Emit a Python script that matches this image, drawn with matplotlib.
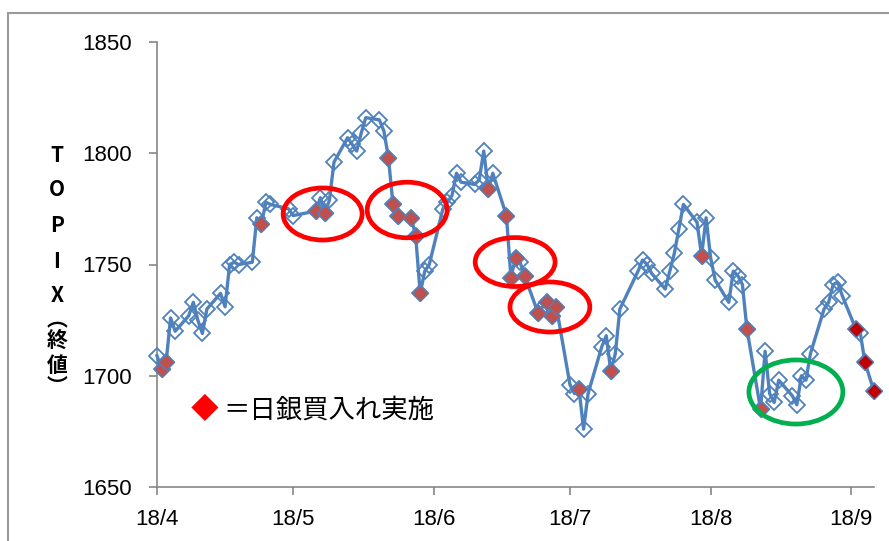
import matplotlib
matplotlib.use('Agg')
import matplotlib.pyplot as plt
import matplotlib.dates as mdates
from matplotlib.patches import Ellipse, Rectangle
import pandas as pd

plt.rcParams['font.family'] = ['Liberation Sans', 'Noto Sans CJK JP', 'DejaVu Sans']

# TOPIX closes
dates = [
    '2018-04-02', '2018-04-03', '2018-04-04', '2018-04-05', '2018-04-06',
    '2018-04-09', '2018-04-10', '2018-04-11', '2018-04-12', '2018-04-13',
    '2018-04-16', '2018-04-17', '2018-04-18', '2018-04-19', '2018-04-20',
    '2018-04-23', '2018-04-24', '2018-04-25', '2018-04-26', '2018-04-27',
    '2018-05-01', '2018-05-02', '2018-05-07', '2018-05-08', '2018-05-09',
    '2018-05-10', '2018-05-11', '2018-05-14', '2018-05-15', '2018-05-16',
    '2018-05-17', '2018-05-18', '2018-05-21', '2018-05-22', '2018-05-23',
    '2018-05-24', '2018-05-25', '2018-05-28', '2018-05-29', '2018-05-30',
    '2018-05-31', '2018-06-01', '2018-06-04', '2018-06-05', '2018-06-06',
    '2018-06-07', '2018-06-08', '2018-06-11', '2018-06-12', '2018-06-13',
    '2018-06-14', '2018-06-15', '2018-06-18', '2018-06-19', '2018-06-20',
    '2018-06-21', '2018-06-22', '2018-06-25', '2018-06-26', '2018-06-27',
    '2018-06-28', '2018-06-29', '2018-07-02', '2018-07-03', '2018-07-04',
    '2018-07-05', '2018-07-06', '2018-07-09', '2018-07-10', '2018-07-11',
    '2018-07-12', '2018-07-13', '2018-07-17', '2018-07-18', '2018-07-19',
    '2018-07-20', '2018-07-23', '2018-07-24', '2018-07-25', '2018-07-26',
    '2018-07-27', '2018-07-30', '2018-07-31', '2018-08-01', '2018-08-02',
    '2018-08-03', '2018-08-06', '2018-08-07', '2018-08-08', '2018-08-09',
    '2018-08-10', '2018-08-13', '2018-08-14', '2018-08-15', '2018-08-16',
    '2018-08-17', '2018-08-20', '2018-08-21', '2018-08-22', '2018-08-23',
    '2018-08-24', '2018-08-27', '2018-08-28', '2018-08-29', '2018-08-30',
    '2018-08-31', '2018-09-03', '2018-09-04', '2018-09-05', '2018-09-07',
]
topix = [
    1709, 1703, 1706, 1726, 1720,
    1727, 1733, 1725, 1719, 1730,
    1737, 1731, 1750, 1751, 1750,
    1751, 1771, 1768, 1778, 1777,
    1775, 1772, 1774, 1780, 1773,
    1779, 1796, 1807, 1804, 1801,
    1809, 1816, 1815, 1810, 1798,
    1777, 1772, 1771, 1763, 1737,
    1747, 1750, 1775, 1778, 1781,
    1791, 1787, 1786, 1788, 1801,
    1784, 1791, 1772, 1744, 1753,
    1751, 1745, 1728, 1731, 1733,
    1727, 1731, 1696, 1692, 1694,
    1676, 1692, 1713, 1718, 1702,
    1710, 1730, 1747, 1752, 1750,
    1746, 1739, 1747, 1755, 1766,
    1777, 1769, 1754, 1771, 1753,
    1743, 1733, 1747, 1745, 1741,
    1721, 1685, 1711, 1692, 1688,
    1698, 1691, 1687, 1700, 1698,
    1710, 1730, 1733, 1741, 1742,
    1736, 1721, 1719, 1706, 1693,
]

# days with BOJ ETF purchases
boj_days = [
    '2018-04-03', '2018-04-04', '2018-04-25', '2018-05-07', '2018-05-09',
    '2018-05-23', '2018-05-24', '2018-05-25', '2018-05-28', '2018-05-29',
    '2018-05-30', '2018-06-14', '2018-06-18', '2018-06-19', '2018-06-20',
    '2018-06-22', '2018-06-25', '2018-06-27', '2018-06-28', '2018-06-29',
    '2018-07-04', '2018-07-11', '2018-07-31', '2018-08-10', '2018-08-13',
]
boj_days_sep = ['2018-09-03', '2018-09-05', '2018-09-07']

month_ticks = ['2018-04-02', '2018-05-02', '2018-06-02', '2018-07-02', '2018-08-02', '2018-09-02']
month_labels = ['18/4', '18/5', '18/6', '18/7', '18/8', '18/9']
y_ticks = [1650, 1700, 1750, 1800, 1850]

# circles: (center date, center value, width days, height value, color)
circles = [
    ('2018-05-08 12:00', 1772.7, 17.4, 23.4, '#FF0000'),
    ('2018-05-27 03:00', 1774.5, 17.6, 25.0, '#FF0000'),
    ('2018-06-19 22:00', 1751.1, 17.6, 22.0, '#FF0000'),
    ('2018-06-27 14:00', 1730.9, 17.6, 22.5, '#FF0000'),
    ('2018-08-20 19:00', 1692.7, 20.7, 28.8, '#00B050'),
]

s = pd.Series(topix, index=pd.to_datetime(dates))
xd = mdates.date2num(s.index)

fig = plt.figure(figsize=(8.89, 5.41), dpi=100)
fig.patches.append(Rectangle((8 / 889, -0.1), 1.2, 1.1 - 13 / 541, transform=fig.transFigure,
                             fill=False, edgecolor='#9A9A9A', linewidth=1.5))
ax = fig.add_axes([157 / 889, 1 - 487 / 541, (874 - 157) / 889, (487 - 42) / 541])

ax.plot(xd, s.values, color='#4F81BD', lw=2.4, marker='D', ms=8.3, mfc='none',
        mec='#4F81BD', mew=1.3, clip_on=False, zorder=3)

r = s.loc[pd.to_datetime(boj_days)]
ax.plot(mdates.date2num(r.index), r.values, ls='none', marker='D', ms=8.6,
        mfc='#C0504D', mec='#4F81BD', mew=0.9, clip_on=False, zorder=4)
r2 = s.loc[pd.to_datetime(boj_days_sep)]
ax.plot(mdates.date2num(r2.index), r2.values, ls='none', marker='D', ms=8.6,
        mfc='#C00000', mec='#4F81BD', mew=0.9, clip_on=False, zorder=4)

for c, v, w, h, col in circles:
    ax.add_patch(Ellipse((mdates.date2num(pd.Timestamp(c)), v), w, h, fill=False,
                         edgecolor=col, lw=3.4, zorder=5))

ax.set_xlim(mdates.date2num(pd.Timestamp('2018-04-02')), mdates.date2num(pd.Timestamp('2018-09-07')))
ax.set_ylim(1650, 1850)
ax.set_xticks(mdates.date2num(pd.to_datetime(month_ticks)))
ax.set_xticklabels(month_labels)
ax.set_yticks(y_ticks)
ax.set_yticklabels([str(v) for v in y_ticks])
ax.tick_params(axis='both', colors='#868686', labelcolor='black', labelsize=16,
               length=6, width=1.2)
ax.tick_params(axis='y', pad=12)
ax.tick_params(axis='x', pad=10)
for side in ['top', 'right']:
    ax.spines[side].set_visible(False)
for side in ['left', 'bottom']:
    ax.spines[side].set_color('#868686')
    ax.spines[side].set_linewidth(1.2)

# vertical axis title, one character per line
ylabel_chars = [('T', 155), ('O', 190), ('P', 226), ('I', 261), ('X', 295),
                ('︵', 320), ('終', 340), ('値', 366), ('︶', 386)]
for ch, ypx in ylabel_chars:
    fig.text(57 / 889, 1 - ypx / 541, ch, ha='center', va='center', fontsize=15,
             fontweight='bold', family=['Noto Sans CJK JP', 'DejaVu Sans'])

ax.text(0.067, 0.172, '◆', transform=ax.transAxes, color='#FF0000', fontsize=20,
        ha='center', va='center', family=['Noto Sans CJK JP', 'DejaVu Sans'])
ax.text(0.092, 0.172, '＝日銀買入れ実施', transform=ax.transAxes, color='black',
        fontsize=19, ha='left', va='center', family=['Noto Sans CJK JP', 'DejaVu Sans'])

fig.savefig('out.png', dpi=100)
